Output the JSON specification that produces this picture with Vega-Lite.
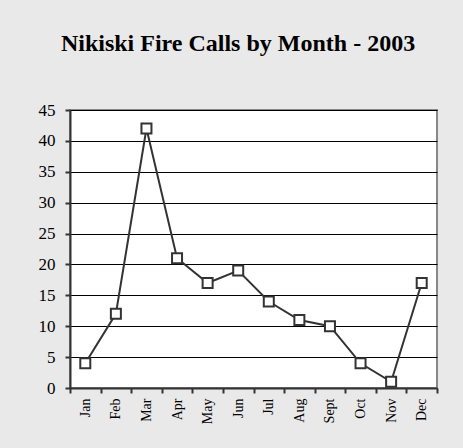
{
  "$schema": "https://vega.github.io/schema/vega-lite/v6.json",
  "width": 367,
  "height": 278,
  "autosize": {"type": "none"},
  "padding": {"left": 70, "top": 110, "right": 26, "bottom": 60},
  "background": "#e9e9e9",
  "title": {
    "text": "Nikiski Fire Calls by Month - 2003",
    "font": "Liberation Serif",
    "fontSize": 24,
    "fontWeight": "bold",
    "color": "#000000",
    "anchor": "middle",
    "frame": "bounds",
    "offset": 45
  },
  "config": {
    "font": "Liberation Serif",
    "view": {"fill": "#ffffff", "stroke": "#888888", "strokeWidth": 2}
  },
  "data": {
    "values": [
      {"month": "Jan", "calls": 4},
      {"month": "Feb", "calls": 12},
      {"month": "Mar", "calls": 42},
      {"month": "Apr", "calls": 21},
      {"month": "May", "calls": 17},
      {"month": "Jun", "calls": 19},
      {"month": "Jul", "calls": 14},
      {"month": "Aug", "calls": 11},
      {"month": "Sept", "calls": 10},
      {"month": "Oct", "calls": 4},
      {"month": "Nov", "calls": 1},
      {"month": "Dec", "calls": 17}
    ]
  },
  "encoding": {
    "x": {
      "field": "month",
      "type": "ordinal",
      "sort": null,
      "scale": {"type": "band", "paddingInner": 0, "paddingOuter": 0},
      "axis": {
        "title": null,
        "labelAngle": -90,
        "labelFont": "Liberation Serif",
        "labelFontSize": 14,
        "labelColor": "#000000",
        "labelPadding": 5,
        "tickBand": "extent",
        "tickSize": 5,
        "tickColor": "#333333",
        "tickWidth": 2,
        "domainColor": "#333333",
        "domainWidth": 2,
        "grid": false
      }
    },
    "y": {
      "field": "calls",
      "type": "quantitative",
      "scale": {"domain": [0, 45], "nice": false},
      "axis": {
        "title": null,
        "values": [0, 5, 10, 15, 20, 25, 30, 35, 40, 45],
        "labelFont": "Liberation Serif",
        "labelFontSize": 17,
        "labelColor": "#000000",
        "labelPadding": 10,
        "tickSize": 5,
        "tickColor": "#333333",
        "tickWidth": 2,
        "domainColor": "#333333",
        "domainWidth": 2,
        "grid": true,
        "gridColor": "#000000",
        "gridWidth": 1,
        "gridOpacity": 1
      }
    }
  },
  "layer": [
    {
      "mark": {"type": "line", "color": "#333333", "strokeWidth": 2}
    },
    {
      "mark": {
        "type": "point",
        "shape": "square",
        "filled": false,
        "fill": "#ffffff",
        "fillOpacity": 1,
        "stroke": "#333333",
        "strokeWidth": 2,
        "opacity": 1,
        "size": 100
      }
    }
  ]
}
